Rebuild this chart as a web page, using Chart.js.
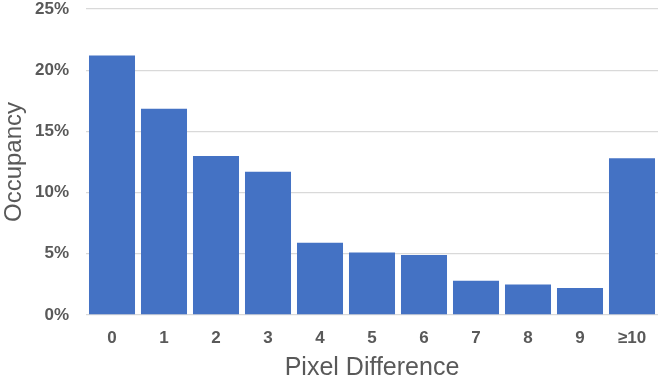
<!DOCTYPE html>
<html>
<head>
<meta charset="utf-8">
<script src="https://cdn.jsdelivr.net/npm/chart.js@4/dist/chart.umd.min.js"></script>
<style>
html,body{margin:0;padding:0;background:#fff;}
#wrap{width:664px;height:385px;position:relative;}
</style>
</head>
<body>
<div id="wrap"><canvas id="c" width="664" height="385"></canvas></div>
<script>
const categories = ["0","1","2","3","4","5","6","7","8","9","≥10"];
const occupancy = [21.2, 16.85, 13.0, 11.7, 5.9, 5.1, 4.9, 2.8, 2.5, 2.2, 12.8];
const yTicks = [0, 5, 10, 15, 20, 25];

const FONT = 'Liberation Sans, Arial, sans-serif';
new Chart(document.getElementById('c'), {
  type: 'bar',
  data: {
    labels: categories,
    datasets: [{
      data: occupancy,
      backgroundColor: '#4472C4',
      borderWidth: 0,
      categoryPercentage: 1.0,
      barPercentage: 0.885
    }]
  },
  options: {
    responsive: false,
    animation: false,
    layout: { padding: { left: 0, right: 6, top: 9, bottom: 0 } },
    plugins: { legend: { display: false }, tooltip: { enabled: false } },
    scales: {
      x: {
        afterFit: (s) => { s.height = 70; s.paddingLeft = 0; s.paddingRight = 0; },
        grid: { display: false, drawTicks: false },
        border: { display: false },
        ticks: { color: '#595959', font: { family: FONT, size: 17, weight: 'bold' }, padding: 13, maxRotation: 0 },
        title: { display: true, text: 'Pixel Difference', color: '#595959', font: { family: FONT, size: 25 }, padding: { top: 0, bottom: 2 } }
      },
      y: {
        min: 0, max: 25,
        afterFit: (s) => { s.width = 86; s.paddingTop = 0; s.paddingBottom = 0; },
        afterBuildTicks: (s) => { s.ticks = yTicks.map(v => ({ value: v })); },
        grid: { color: '#d9d9d9', lineWidth: 1.3, drawTicks: false },
        border: { display: false },
        ticks: { color: '#595959', font: { family: FONT, size: 17, weight: 'bold' }, padding: 17, callback: v => v + '%' },
        title: { display: true, text: 'Occupancy', color: '#595959', font: { family: FONT, size: 24 }, padding: { top: 0, bottom: 0 } }
      }
    }
  }
});
</script>
</body>
</html>
